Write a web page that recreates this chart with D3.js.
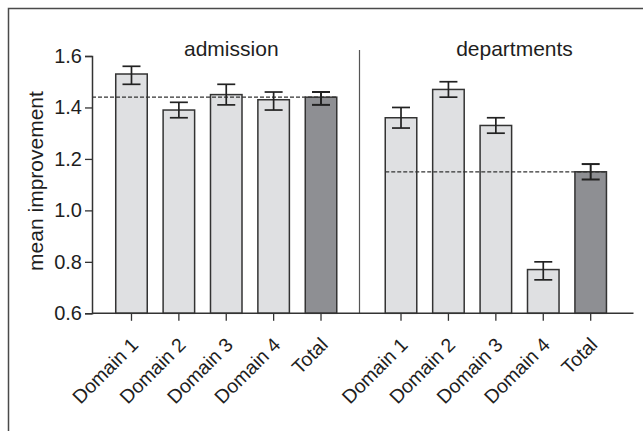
<!DOCTYPE html>
<html><head><meta charset="utf-8">
<script src="https://cdn.jsdelivr.net/npm/d3@7"></script>
<style>
html,body{margin:0;padding:0;background:#fff;}
svg{display:block;font-family:"Liberation Sans",Arial,Helvetica,sans-serif;}
</style></head>
<body>
<svg id="c" width="643" height="431"></svg>
<script>
// ---- data ----
const categories = ["Domain 1","Domain 2","Domain 3","Domain 4","Total"];
const groups = ["admission","departments"];
const admissionMean = [1.53, 1.39, 1.45, 1.43, 1.44];
const admissionLow  = [1.49, 1.36, 1.41, 1.39, 1.41];
const admissionHigh = [1.56, 1.42, 1.49, 1.46, 1.46];
const departmentsMean = [1.36, 1.47, 1.33, 0.77, 1.15];
const departmentsLow  = [1.32, 1.44, 1.30, 0.73, 1.12];
const departmentsHigh = [1.40, 1.50, 1.36, 0.80, 1.18];
const referenceLines = [1.44, 1.15];
const yTicks = [0.6, 0.8, 1.0, 1.2, 1.4, 1.6];
const yLabel = "mean improvement";

const svg = d3.select("#c");

// outer frame
svg.append("rect").attr("x",8.5).attr("y",8.5).attr("width",700).attr("height",500)
  .attr("fill","none").attr("stroke","#4a4a4a").attr("stroke-width",1.5);

const y = d3.scaleLinear().domain([0.6,1.6]).range([313.3,56]);
const xA = d3.scaleBand().domain(categories).range([107.8,344.7]).paddingInner(0.335).paddingOuter(0.1675);
const xD = d3.scaleBand().domain(categories).range([377.3,614.4]).paddingInner(0.335).paddingOuter(0.1675);

const panels = [
  {name:groups[0], x:xA, mean:admissionMean, lo:admissionLow, hi:admissionHigh, ref:referenceLines[0], refX0:92, tx:231.3},
  {name:groups[1], x:xD, mean:departmentsMean, lo:departmentsLow, hi:departmentsHigh, ref:referenceLines[1], refX0:null, tx:514.5}
];

const textColor = "#1e1e1e";

// separator
svg.append("line").attr("x1",359.5).attr("x2",359.5).attr("y1",50).attr("y2",y(0.6))
  .attr("stroke","#555").attr("stroke-width",1.2);

panels.forEach(p=>{
  const g = svg.append("g");
  g.selectAll("rect.bar").data(categories).enter().append("rect")
    .attr("x",d=>p.x(d)).attr("width",p.x.bandwidth())
    .attr("y",(d,i)=>y(p.mean[i])).attr("height",(d,i)=>y(0.6)-y(p.mean[i]))
    .attr("fill",(d,i)=> i===categories.length-1 ? "#8e8f93" : "#dfe0e2")
    .attr("stroke","#333").attr("stroke-width",1.5);
  const x0 = p.refX0 !== null ? p.refX0 : p.x(categories[0]);
  const x1 = p.x(categories[categories.length-1]) + p.x.bandwidth();
  g.append("line").attr("x1",x0).attr("x2",x1).attr("y1",y(p.ref)).attr("y2",y(p.ref))
    .attr("stroke","#333").attr("stroke-width",1.2).attr("stroke-dasharray","4,2");
  const cap = 9;
  categories.forEach((c,i)=>{
    const cx = p.x(c) + p.x.bandwidth()/2;
    const sw = i===categories.length-1 ? 2 : 1.7;
    g.append("line").attr("x1",cx).attr("x2",cx).attr("y1",y(p.lo[i])).attr("y2",y(p.hi[i]))
      .attr("stroke","#222").attr("stroke-width",sw);
    [p.lo[i],p.hi[i]].forEach(v=>{
      g.append("line").attr("x1",cx-cap).attr("x2",cx+cap).attr("y1",y(v)).attr("y2",y(v))
        .attr("stroke","#222").attr("stroke-width",sw);
    });
  });
  categories.forEach(c=>{
    const cx = p.x(c) + p.x.bandwidth()/2;
    g.append("line").attr("x1",cx).attr("x2",cx).attr("y1",y(0.6)).attr("y2",y(0.6)+7.5)
      .attr("stroke","#333").attr("stroke-width",1.3);
    g.append("text").attr("transform",`translate(${cx+8},${346}) rotate(-45)`)
      .attr("text-anchor","end").attr("font-size",19.5).attr("fill",textColor).text(c);
  });
  g.append("text").attr("x", p.tx).attr("y",56)
    .attr("text-anchor","middle").attr("font-size",21).attr("fill",textColor).text(p.name);
});

svg.append("line").attr("x1",92).attr("x2",633.5).attr("y1",y(0.6)).attr("y2",y(0.6))
  .attr("stroke","#333").attr("stroke-width",1.5);

const yAxis = d3.axisLeft(y).tickValues(yTicks).tickFormat(d3.format(".1f")).tickSize(7).tickPadding(3);
const ga = svg.append("g").attr("transform","translate(92,0)").call(yAxis);
ga.select(".domain").attr("stroke","#333").attr("stroke-width",1.5);
ga.selectAll(".tick line").attr("stroke","#333").attr("stroke-width",1.3);
ga.selectAll(".tick text").attr("font-size",20).attr("fill",textColor)
  .attr("font-family","'Liberation Sans',Arial,sans-serif");

svg.append("text").attr("transform",`translate(43,181) rotate(-90)`)
  .attr("text-anchor","middle").attr("font-size",21).attr("fill",textColor).text(yLabel);
</script>
</body></html>
